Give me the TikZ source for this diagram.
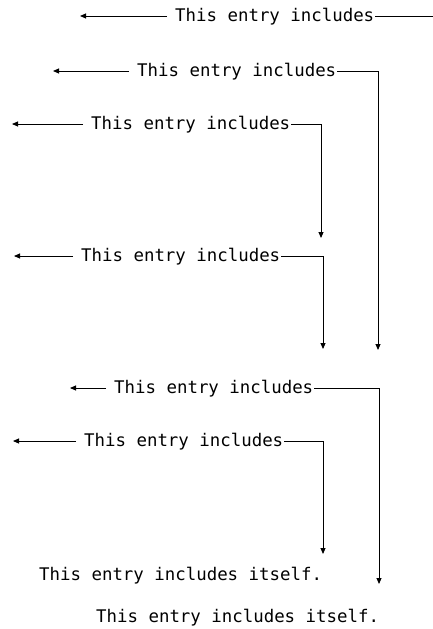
\documentclass[tikz,border=0pt]{standalone}
\usepackage{fontspec}
\setmonofont{DejaVu Sans Mono}
\usetikzlibrary{arrows.meta}
\tikzset{
  entry/.style={anchor=west,inner sep=0pt,font=\ttfamily\fontsize{17.4}{20}\selectfont},
  conn/.style={line width=0.9pt},
  arr/.style={conn,-{Triangle[length=6pt,width=5pt]}}
}
\begin{document}
\begin{tikzpicture}[x=1pt,y=-1pt]
\useasboundingbox (0,0) rectangle (433,629);
% row 1
\node[entry] (t1) at (175,17) {This entry includes};
\coordinate (a1) at (80,16);
\coordinate (e1) at (433,16);
\draw[arr] ([xshift=-8pt]t1.west|-a1) -- (a1);
\draw[conn] ([xshift=1pt]t1.east|-e1) -- (e1);
% row 2
\node[entry] (t2) at (137,72) {This entry includes};
\coordinate (a2) at (53,71);
\coordinate (c2) at (378,71);
\coordinate (d2) at (378,350);
\draw[arr] ([xshift=-8pt]t2.west|-a2) -- (a2);
\draw[arr] ([xshift=1pt]t2.east|-c2) -- (c2) -- (d2);
% row 3
\node[entry] (t3) at (91,125) {This entry includes};
\coordinate (a3) at (12,124);
\coordinate (c3) at (321,124);
\coordinate (d3) at (321,238);
\draw[arr] ([xshift=-8pt]t3.west|-a3) -- (a3);
\draw[arr] ([xshift=1pt]t3.east|-c3) -- (c3) -- (d3);
% row 4
\node[entry] (t4) at (81,257) {This entry includes};
\coordinate (a4) at (14,256);
\coordinate (c4) at (323,256);
\coordinate (d4) at (323,349);
\draw[arr] ([xshift=-8pt]t4.west|-a4) -- (a4);
\draw[arr] ([xshift=1pt]t4.east|-c4) -- (c4) -- (d4);
% row 5
\node[entry] (t5) at (114,389) {This entry includes};
\coordinate (a5) at (70,388);
\coordinate (c5) at (379,388);
\coordinate (d5) at (379,584);
\draw[arr] ([xshift=-8pt]t5.west|-a5) -- (a5);
\draw[arr] ([xshift=1pt]t5.east|-c5) -- (c5) -- (d5);
% row 6
\node[entry] (t6) at (84,442) {This entry includes};
\coordinate (a6) at (13,441);
\coordinate (c6) at (323,441);
\coordinate (d6) at (323,554);
\draw[arr] ([xshift=-8pt]t6.west|-a6) -- (a6);
\draw[arr] ([xshift=1pt]t6.east|-c6) -- (c6) -- (d6);
% bottom texts
\node[entry] (t7) at (39,576) {This entry includes itself.};
\node[entry] (t8) at (96,618) {This entry includes itself.};
\end{tikzpicture}
\end{document}
